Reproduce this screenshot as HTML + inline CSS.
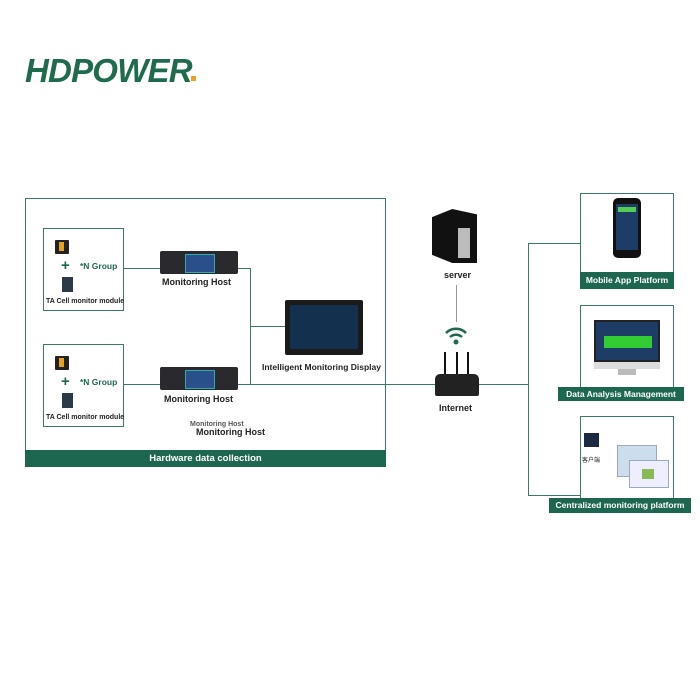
<!DOCTYPE html>
<html><head><meta charset="utf-8"><style>
body{margin:0;width:700px;height:700px;background:#fff;position:relative;overflow:hidden;font-family:"Liberation Sans","Noto Sans CJK SC",sans-serif;}
div{position:absolute;box-sizing:border-box;}
.b{border:1px solid #3a7a68;}
.t{font-weight:bold;font-size:8.5px;color:#222;white-space:nowrap;}
.bar{background:#1d6650;color:#fff;font-weight:bold;font-size:8.5px;text-align:center;white-space:nowrap;}
.h{background:#3a7a68;}
.host{background:#2a2a2e;border-radius:2px;}
.host i{position:absolute;left:25px;top:3px;width:28px;height:17px;background:#2a4f8a;border:1px solid #3aa;}
</style></head><body>
<div style="left:25px;top:52px;font:italic 900 33px 'Liberation Sans',sans-serif;color:#1f6b4e;letter-spacing:-0.8px;">HDPOWER</div>
<div style="left:191px;top:76px;width:5px;height:5px;background:#f0a020"></div>

<!-- main box -->
<div class="b" style="left:25px;top:198px;width:361px;height:269px"></div>
<div class="bar" style="left:25px;top:450px;width:361px;height:17px;line-height:17px;font-size:9.5px">Hardware data collection</div>

<!-- cell boxes -->
<div class="b" style="left:43px;top:228px;width:81px;height:83px"></div>
<div class="b" style="left:43px;top:344px;width:81px;height:83px"></div>
<div style="left:55px;top:240px;width:14px;height:14px;background:#222;border-radius:1px"><div style="left:4px;top:2px;width:5px;height:9px;background:#e8a020"></div></div>
<div style="left:55px;top:356px;width:14px;height:14px;background:#222;border-radius:1px"><div style="left:4px;top:2px;width:5px;height:9px;background:#e8a020"></div></div>
<div style="left:61px;top:257px;color:#1d6650;font-weight:bold;font-size:15px">+</div>
<div style="left:61px;top:373px;color:#1d6650;font-weight:bold;font-size:15px">+</div>
<div class="t" style="left:80px;top:261px;color:#1d6650">*N Group</div>
<div class="t" style="left:80px;top:377px;color:#1d6650">*N Group</div>
<div style="left:62px;top:277px;width:11px;height:15px;background:#2a3a48"></div>
<div style="left:62px;top:393px;width:11px;height:15px;background:#2a3a48"></div>
<div class="t" style="left:46px;top:298px;font-size:7px">TA Cell monitor module</div>
<div class="t" style="left:46px;top:414px;font-size:7px">TA Cell monitor module</div>

<!-- lines -->
<div class="h" style="left:124px;top:268px;width:37px;height:1px"></div>
<div class="h" style="left:237px;top:268px;width:14px;height:1px"></div>
<div class="h" style="left:250px;top:268px;width:1px;height:117px"></div>
<div class="h" style="left:250px;top:326px;width:35px;height:1px"></div>
<div class="h" style="left:124px;top:384px;width:404px;height:1px"></div>
<div class="h" style="left:478px;top:384px;width:50px;height:1px"></div>

<!-- hosts -->
<div class="host" style="left:160px;top:251px;width:78px;height:23px"><i></i></div>
<div class="host" style="left:160px;top:367px;width:78px;height:23px"><i></i></div>
<div class="t" style="left:162px;top:277px;font-size:9px">Monitoring Host</div>
<div class="t" style="left:164px;top:394px;font-size:9px">Monitoring Host</div>
<div class="t" style="left:190px;top:421px;font-size:7px;color:#555">Monitoring Host</div>
<div class="t" style="left:196px;top:427px;font-size:9px">Monitoring Host</div>

<!-- display -->
<div style="left:285px;top:300px;width:78px;height:55px;background:#1a1a1a;border-radius:2px"><div style="left:5px;top:5px;width:68px;height:44px;background:#14304f"></div></div>
<div class="t" style="left:262px;top:362px">Intelligent Monitoring Display</div>

<!-- server -->
<div style="left:432px;top:209px;width:45px;height:54px;background:#111;clip-path:polygon(0 15%,45% 0,100% 10%,100% 100%,45% 100%,0 85%)"></div>
<div style="left:458px;top:228px;width:12px;height:30px;background:#bbb"></div>
<div class="t" style="left:444px;top:270px;font-size:9px">server</div>
<div style="left:456px;top:285px;width:1px;height:37px;background:#999"></div>
<svg style="position:absolute;left:444px;top:325px" width="24" height="22"><g fill="none" stroke="#1d6650" stroke-width="2.5"><path d="M2 8 A14 14 0 0 1 22 8"/><path d="M6 12 A9 9 0 0 1 18 12"/></g><circle cx="12" cy="17" r="2.5" fill="#1d6650"/></svg>
<div style="left:444px;top:352px;width:2px;height:24px;background:#111"></div>
<div style="left:456px;top:352px;width:2px;height:24px;background:#111"></div>
<div style="left:467px;top:352px;width:2px;height:24px;background:#111"></div>
<div style="left:435px;top:374px;width:44px;height:22px;background:#222;border-radius:5px 5px 2px 2px"></div>
<div class="t" style="left:439px;top:403px;font-size:9px">Internet</div>

<!-- right -->
<div class="h" style="left:528px;top:243px;width:1px;height:253px"></div>
<div class="h" style="left:528px;top:243px;width:52px;height:1px"></div>
<div class="h" style="left:528px;top:495px;width:52px;height:1px"></div>
<div class="b" style="left:580px;top:193px;width:94px;height:96px"></div>
<div style="left:613px;top:198px;width:28px;height:60px;background:#111;border-radius:5px"><div style="left:3px;top:6px;width:22px;height:46px;background:#1e3d66"></div><div style="left:5px;top:9px;width:18px;height:5px;background:#5c5"></div></div>
<div class="bar" style="left:580px;top:272px;width:94px;height:17px;line-height:17px">Mobile App Platform</div>
<div class="b" style="left:580px;top:305px;width:94px;height:86px"></div>
<div style="left:594px;top:320px;width:66px;height:42px;background:#1e3d66;border:2px solid #222"><div style="left:8px;top:14px;width:48px;height:12px;background:#3c3"></div></div>
<div style="left:594px;top:362px;width:66px;height:7px;background:#ddd"></div>
<div style="left:618px;top:369px;width:18px;height:6px;background:#bbb"></div>
<div class="bar" style="left:558px;top:387px;width:126px;height:14px;line-height:14px">Data Analysis Management</div>
<div class="b" style="left:580px;top:416px;width:94px;height:85px"></div>
<div style="left:584px;top:433px;width:15px;height:14px;background:#1a2a44"></div>
<div style="left:582px;top:455px;font-size:6px;color:#222">客户端</div>
<div style="left:617px;top:445px;width:40px;height:32px;background:#cde;border:1px solid #9ab"></div>
<div style="left:629px;top:460px;width:40px;height:28px;background:#eef;border:1px solid #9ab"><div style="left:12px;top:8px;width:12px;height:10px;background:#8b5"></div></div>
<div class="bar" style="left:549px;top:498px;width:142px;height:15px;line-height:15px">Centralized monitoring platform</div>
</body></html>
